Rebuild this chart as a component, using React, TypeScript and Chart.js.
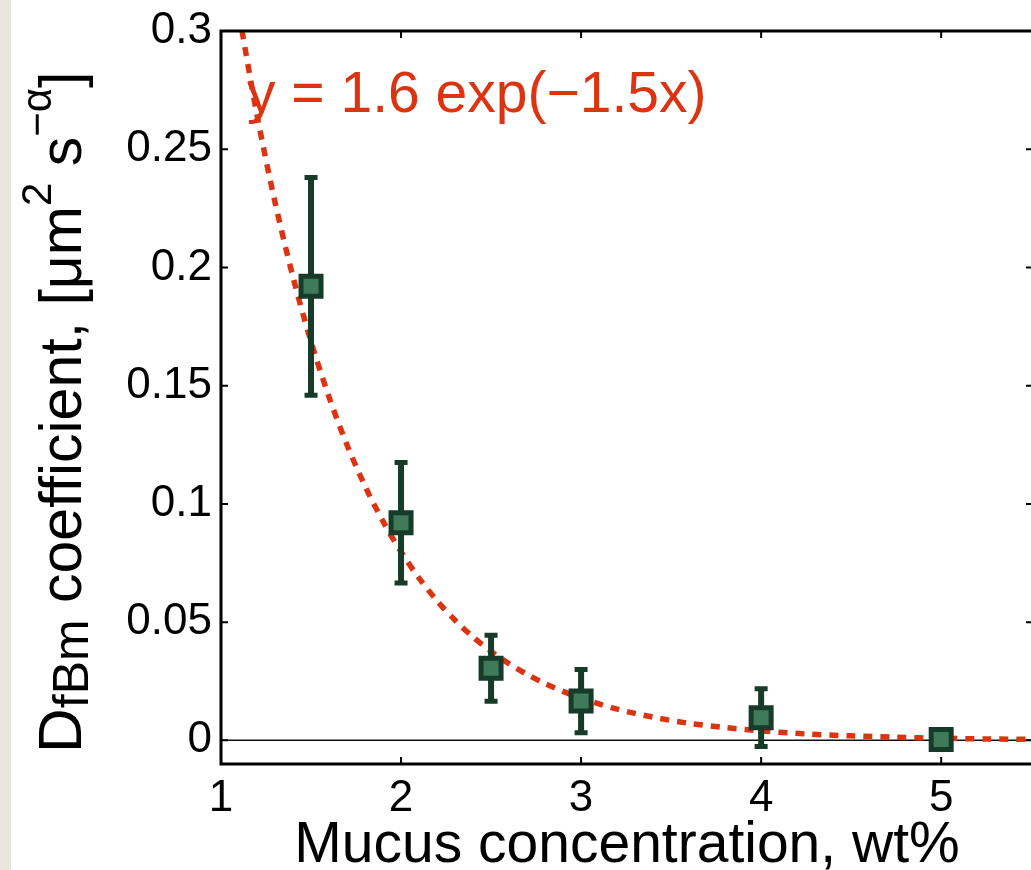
import React, { useEffect, useRef } from "react";
import { Chart, registerables } from "chart.js";

Chart.register(...registerables);

// ---- data ----
const concentrations = [1.5, 2, 2.5, 3, 4, 5];
const diffusion = [0.192, 0.092, 0.0305, 0.0166, 0.0096, 0.0004];
const errors = [0.046, 0.0255, 0.014, 0.0134, 0.0122, 0.0003];

// fit curve values y = 1.6 exp(-1.5x), tabulated
const fitX = [1.1, 1.2, 1.3, 1.4, 1.5, 1.6, 1.7, 1.8, 1.9, 2.0, 2.1, 2.2, 2.3, 2.4, 2.5, 2.6, 2.7, 2.8, 2.9, 3.0, 3.2, 3.4, 3.6, 3.8, 4.0, 4.25, 4.5, 4.75, 5.0, 5.25, 5.5];
const fitY = [0.3073, 0.2645, 0.2276, 0.1959, 0.1686, 0.1452, 0.1249, 0.1075, 0.0926, 0.0797, 0.0686, 0.059, 0.0508, 0.0437, 0.0376, 0.0324, 0.0279, 0.024, 0.0207, 0.0178, 0.0132, 0.0098, 0.0072, 0.0054, 0.004, 0.0027, 0.0019, 0.0013, 0.0009, 0.0006, 0.0004];

const xTicks = [1, 2, 3, 4, 5];
const yTicks = [0, 0.05, 0.1, 0.15, 0.2, 0.25, 0.3];
const yTickLabels = ["0", "0.05", "0.1", "0.15", "0.2", "0.25", "0.3"];

const fitLabel = "y = 1.6 exp(\u22121.5x)";
const xTitle = "Mucus concentration, wt%";
const yTitleParts = [
  { text: "D", kind: "big" },
  { text: "fBm", kind: "sub" },
  { text: " coefficient, [\u03bcm", kind: "main" },
  { text: "2", kind: "sup" },
  { text: " s", kind: "main" },
  { text: "\u2212\u03b1", kind: "sup" },
  { text: "]", kind: "main" },
];

const FONT = '"Liberation Sans", Arial, Helvetica, sans-serif';
const DARK = "#163b29";
const FILL = "#3f7a5b";
const RED = "#dc3410";

const zeroPad = (s: any) => {
  s.paddingLeft = 0;
  s.paddingRight = 0;
  s.paddingTop = 0;
  s.paddingBottom = 0;
};

const decorPlugin = {
  id: "decor",
  beforeDatasetsDraw(chart: any) {
    const { ctx, chartArea } = chart;
    const y = chart.scales.y;
    const y0 = y.getPixelForValue(0);
    ctx.save();
    ctx.strokeStyle = "#111";
    ctx.lineWidth = 1.5;
    ctx.beginPath();
    ctx.moveTo(chartArea.left, y0);
    ctx.lineTo(chartArea.right, y0);
    ctx.stroke();
    ctx.restore();
  },
  afterDatasetDraw(chart: any, args: any) {
    if (args.index !== 1) return;
    const { ctx } = chart;
    const xs = chart.scales.x;
    const ys = chart.scales.y;
    ctx.save();
    ctx.strokeStyle = DARK;
    ctx.lineCap = "butt";
    concentrations.forEach((c, i) => {
      const px = xs.getPixelForValue(c);
      const top = ys.getPixelForValue(diffusion[i] + errors[i]);
      const bot = ys.getPixelForValue(diffusion[i] - errors[i]);
      ctx.lineWidth = 6;
      ctx.beginPath();
      ctx.moveTo(px, top);
      ctx.lineTo(px, bot);
      ctx.stroke();
      ctx.lineWidth = 5;
      ctx.beginPath();
      ctx.moveTo(px - 6.5, top);
      ctx.lineTo(px + 6.5, top);
      ctx.moveTo(px - 6.5, bot);
      ctx.lineTo(px + 6.5, bot);
      ctx.stroke();
    });
    ctx.restore();
  },
  afterDraw(chart: any) {
    const { ctx, chartArea } = chart;
    const { left, right, top, bottom } = chartArea;
    const xs = chart.scales.x;
    const ys = chart.scales.y;
    ctx.save();
    ctx.strokeStyle = "#000";
    ctx.lineWidth = 3;
    ctx.strokeRect(left, top, right - left, bottom - top);
    ctx.lineWidth = 2;
    const tl = 7;
    ctx.beginPath();
    xTicks.forEach((v) => {
      const px = xs.getPixelForValue(v);
      ctx.moveTo(px, bottom);
      ctx.lineTo(px, bottom - tl);
      ctx.moveTo(px, top);
      ctx.lineTo(px, top + tl);
    });
    yTicks.forEach((v) => {
      const py = ys.getPixelForValue(v);
      ctx.moveTo(left, py);
      ctx.lineTo(left + tl, py);
      ctx.moveTo(right, py);
      ctx.lineTo(right - tl, py);
    });
    ctx.stroke();

    ctx.fillStyle = RED;
    ctx.font = `57px ${FONT}`;
    ctx.textAlign = "left";
    ctx.textBaseline = "alphabetic";
    ctx.fillText(fitLabel, 247, 112);

    ctx.fillStyle = "#000";
    ctx.font = `57px ${FONT}`;
    ctx.textAlign = "center";
    ctx.fillText(xTitle, (left + right) / 2, 862);

    ctx.translate(81, 753);
    ctx.rotate(-Math.PI / 2);
    ctx.textAlign = "left";
    let cx = 0;
    yTitleParts.forEach((p) => {
      let size = 59;
      let dy = 0;
      if (p.kind === "big") {
        size = 62;
      } else if (p.kind === "sub") {
        size = 50;
        dy = 7;
      } else if (p.kind === "sup") {
        size = 42;
        dy = -30;
      }
      ctx.font = `${size}px ${FONT}`;
      ctx.fillText(p.text, cx, dy);
      cx += ctx.measureText(p.text).width;
    });
    ctx.restore();
  },
};

export default function App() {
  const ref = useRef<HTMLCanvasElement | null>(null);
  useEffect(() => {
    if (!ref.current) return;
    const chart = new Chart(ref.current, {
      type: "scatter",
      data: {
        datasets: [
          {
            type: "scatter",
            data: concentrations.map((c, i) => ({ x: c, y: diffusion[i] })),
            pointStyle: "rect",
            pointRadius: 14.14,
            pointHoverRadius: 14.14,
            borderWidth: 5,
            borderColor: DARK,
            backgroundColor: FILL,
          } as any,
          {
            type: "line",
            data: fitX.map((x, i) => ({ x, y: fitY[i] })),
            borderColor: RED,
            borderWidth: 5.5,
            borderDash: [9, 8],
            pointRadius: 0,
            fill: false,
            tension: 0.3,
            clip: 0,
          } as any,
        ],
      },
      options: {
        animation: false,
        responsive: false,
        maintainAspectRatio: false,
        events: [],
        layout: { autoPadding: false, padding: { top: 31, right: 7, left: 0, bottom: 0 } },
        plugins: { legend: { display: false }, tooltip: { enabled: false } },
        scales: {
          x: {
            type: "linear",
            min: 1,
            max: 5.51,
            grid: { display: false, drawTicks: false },
            border: { display: false },
            afterBuildTicks: (s: any) => {
              s.ticks = xTicks.map((v) => ({ value: v }));
            },
            afterFit: (s: any) => {
              s.height = 106;
              zeroPad(s);
            },
            ticks: {
              padding: 8,
              autoSkip: false,
              maxRotation: 0,
              color: "#000",
              font: { family: FONT, size: 44 },
              callback: (v: any) => String(v),
            },
          },
          y: {
            type: "linear",
            min: -0.01,
            max: 0.3,
            grid: { display: false, drawTicks: false },
            border: { display: false },
            afterBuildTicks: (s: any) => {
              s.ticks = yTicks.map((v) => ({ value: v }));
            },
            afterFit: (s: any) => {
              s.width = 221;
              zeroPad(s);
            },
            ticks: {
              padding: 9,
              autoSkip: false,
              color: "#000",
              font: { family: FONT, size: 44 },
              callback: (v: any) => yTickLabels[yTicks.indexOf(v)] ?? "",
            },
          },
        },
      } as any,
      plugins: [decorPlugin],
    });
    return () => chart.destroy();
  }, []);

  return (
    <div
      style={{
        position: "fixed",
        left: 0,
        top: 0,
        width: 1031,
        height: 870,
        overflow: "hidden",
        background: "#ffffff",
      }}
    >
      <div
        style={{
          position: "absolute",
          left: 0,
          top: 0,
          width: 11,
          height: 870,
          background: "#e9e5df",
        }}
      />
      <canvas
        ref={ref}
        width={1040}
        height={870}
        style={{ position: "absolute", left: 0, top: 0, display: "block", width: 1040, height: 870 }}
      />
    </div>
  );
}
